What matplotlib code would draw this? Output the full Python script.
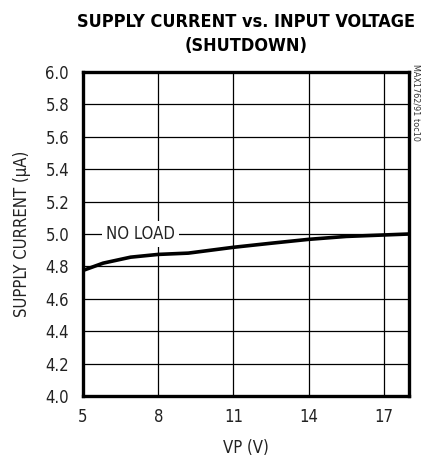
import matplotlib
matplotlib.use("Agg")
import matplotlib.pyplot as plt
from matplotlib import font_manager as fm

vp = [5.0, 5.8, 6.9, 8.0, 9.2, 11.0, 12.5, 14.0, 15.5, 17.0, 18.0]
current = [4.775, 4.82, 4.857, 4.874, 4.882, 4.918, 4.943, 4.967, 4.985, 4.994, 5.0]
xticks = [5, 8, 11, 14, 17]
yticks = [4.0, 4.2, 4.4, 4.6, 4.8, 5.0, 5.2, 5.4, 5.6, 5.8, 6.0]

# find condensed fonts
reg_path, bold_path = None, None
for f in fm.fontManager.ttflist:
    p = f.fname.lower()
    if ("narrow" in p or "condensed" in p) and "oblique" not in p and "italic" not in p:
        if f.weight in ("bold", 700) or "bold" in p:
            if bold_path is None or "liberation" in p:
                bold_path = f.fname
        else:
            if reg_path is None or "liberation" in p:
                reg_path = f.fname

def fp(size, bold=False):
    path = bold_path if bold else reg_path
    if path:
        return fm.FontProperties(fname=path, size=size)
    return fm.FontProperties(family="DejaVu Sans", size=size,
                             weight="bold" if bold else "normal")

fig = plt.figure(figsize=(4.21, 4.57), dpi=100)
W, H = 421, 457
ax = fig.add_axes([83 / W, 1 - 396 / H, (409 - 83) / W, (396 - 72) / H])
ax.set_xlim(5, 18)
ax.set_ylim(4.0, 6.0)
ax.set_xticks(xticks)
ax.set_yticks(yticks)
ax.set_xticklabels([str(t) for t in xticks], fontproperties=fp(12), color="#222222")
ax.set_yticklabels([f"{t:.1f}" for t in yticks], fontproperties=fp(12), color="#222222")
ax.tick_params(axis="y", length=0, pad=10)
ax.tick_params(axis="x", length=0, pad=9)
ax.grid(True, color="black", linewidth=0.9)
for s in ax.spines.values():
    s.set_linewidth(2.4)
ax.plot(vp, current, color="black", linewidth=2.6, solid_capstyle="butt")
ax.text(7.3, 5.0, "NO LOAD", fontproperties=fp(12), ha="center", va="center",
        color="#222222", bbox=dict(facecolor="white", edgecolor="none", pad=3))
ax.set_xlabel("VP (V)", fontproperties=fp(12), labelpad=9, color="#222222")
ax.set_ylabel("SUPPLY CURRENT (µA)", fontproperties=fp(12), labelpad=10,
              color="#222222")
fig.text(246 / W, 1 - 22 / H, "SUPPLY CURRENT vs. INPUT VOLTAGE",
         fontproperties=fp(13, True), ha="center", va="center")
fig.text(246 / W, 1 - 46 / H, "(SHUTDOWN)", fontproperties=fp(13, True),
         ha="center", va="center")
fig.text(416 / W, 1 - 102 / H, "MAX1762/91 toc10", fontproperties=fp(6.5),
         rotation=270, ha="center", va="center", color="#333333")
fig.savefig("out.png", dpi=100)
